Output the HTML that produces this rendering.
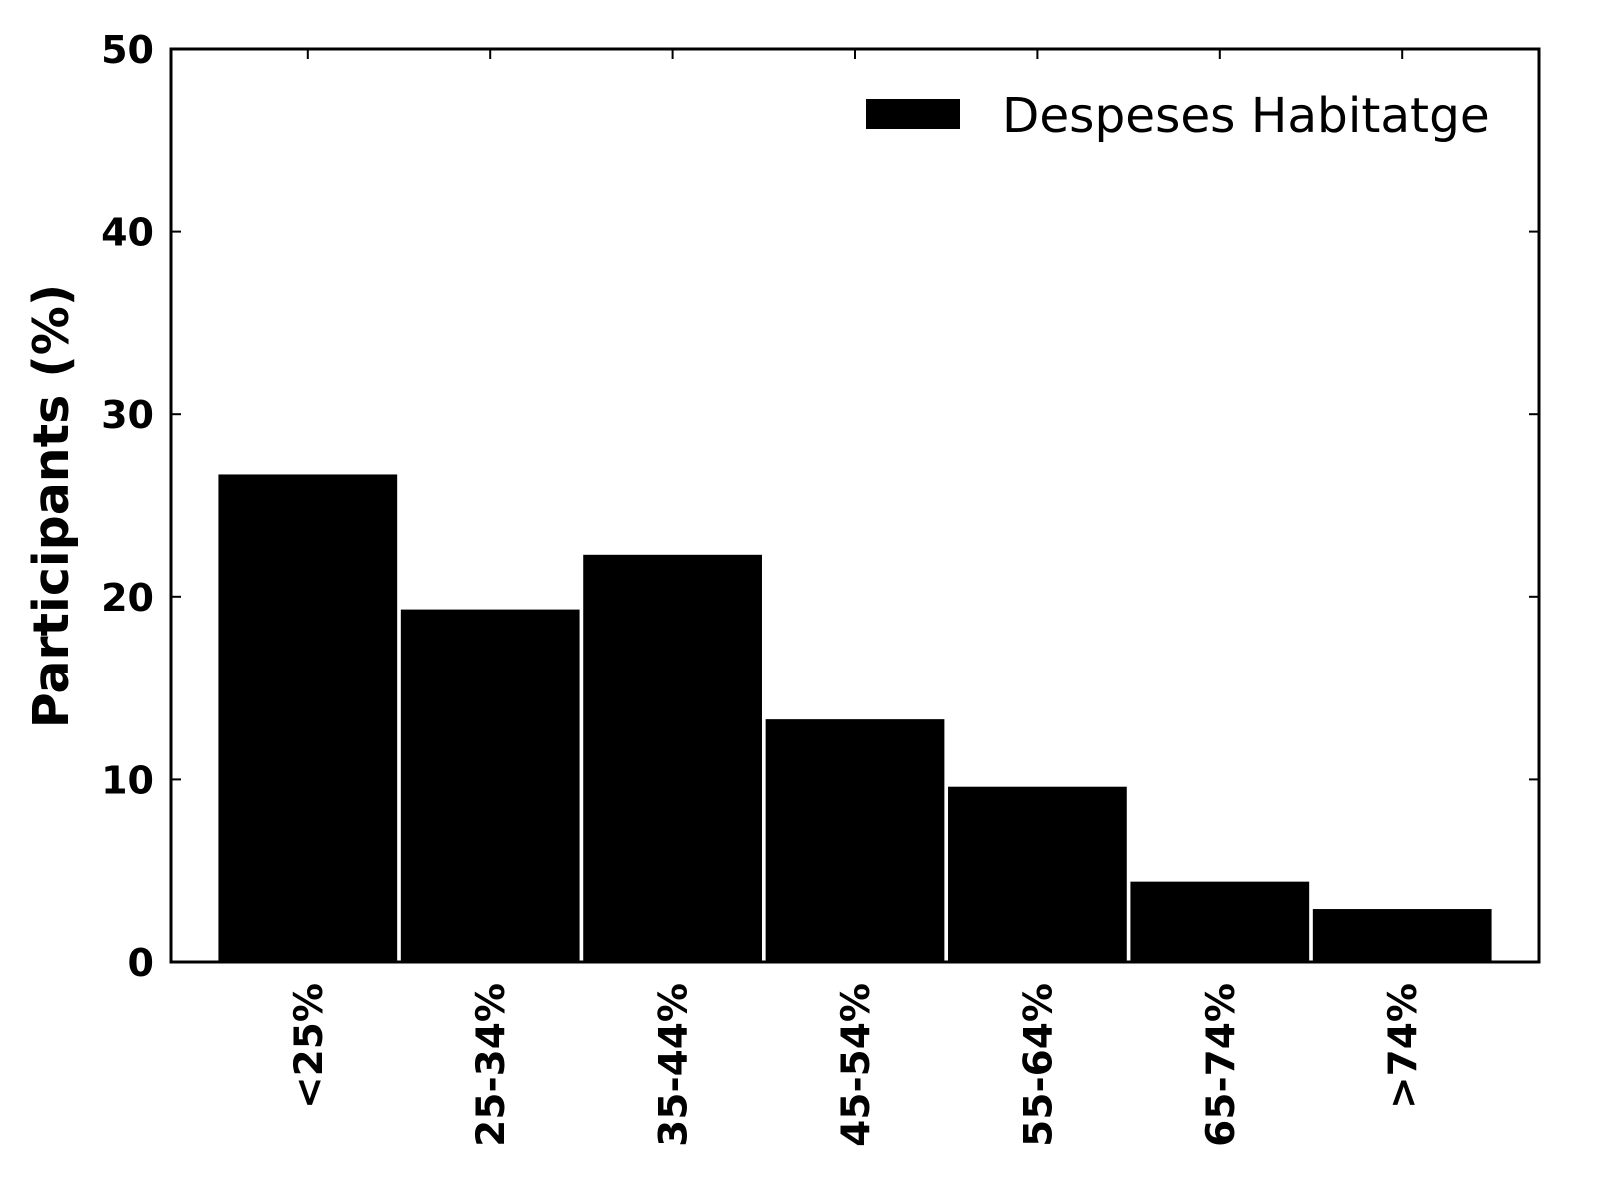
<!DOCTYPE html>
<html><head><meta charset="utf-8"><style>
html,body{margin:0;padding:0;background:#fff;}
svg{display:block;font-family:"DejaVu Sans","Liberation Sans",sans-serif;}
</style></head><body>
<svg id="chart" width="1598" height="1202" xmlns="http://www.w3.org/2000/svg"></svg>
<script>
const categories = ["<25%","25-34%","35-44%","45-54%","55-64%","65-74%",">74%"];
const values = [26.7, 19.3, 22.3, 13.3, 9.6, 4.4, 2.9];
const yTicks = [0,10,20,30,40,50];
const seriesName = "Despeses Habitatge";

const svg = document.getElementById('chart');
const NS = "http://www.w3.org/2000/svg";
const L=171, R=1539, T=49, B=962;
const yMax=50;
const xMin=-0.75, xMax=categories.length-0.25;
const xs = v => L + (v-xMin)/(xMax-xMin)*(R-L);
const ys = v => B - v/yMax*(B-T);
function mk(tag, attrs){const e=document.createElementNS(NS,tag);for(const k in attrs)e.setAttribute(k,attrs[k]);svg.appendChild(e);return e;}

values.forEach((v,i)=>{
  const x0=xs(i-0.49), x1=xs(i+0.49);
  const r=mk('rect',{x:x0,y:ys(v),width:x1-x0,height:B-ys(v),fill:'#000'});
  
  
});

yTicks.forEach(t=>{
  const y=ys(t);
  const a=mk('line',{x1:L,x2:L+10,y1:y,y2:y,stroke:'#000','stroke-width':2});
  
  
  mk('line',{x1:R,x2:R-10,y1:y,y2:y,stroke:'#000','stroke-width':2});
  const tx=mk('text',{x:L-17,y:y+14,'text-anchor':'end','font-size':38,'font-weight':'bold'});
  tx.textContent=t;
  
  
});

categories.forEach((c,i)=>{
  const x=xs(i);
  mk('line',{x1:x,x2:x,y1:T,y2:T+10,stroke:'#000','stroke-width':2});
  mk('line',{x1:x,x2:x,y1:B,y2:B-10,stroke:'#000','stroke-width':2});
  const tx=mk('text',{x:0,y:0,'text-anchor':'end','font-size':39,'font-weight':'bold',transform:`translate(${x+14},983) rotate(-90)`});
  tx.textContent=c;
  
  
});

const fr=mk('rect',{x:L,y:T,width:R-L,height:B-T,fill:'none',stroke:'#000','stroke-width':3});



const yl=mk('text',{x:0,y:0,'text-anchor':'middle','font-size':49,'font-weight':'bold',transform:'translate(68,506) rotate(-90)'});
yl.textContent='Participants (%)';



const lp=mk('rect',{x:866,y:99,width:94,height:30,fill:'#000'});


const lt=mk('text',{x:1002,y:132,'font-size':48.5});
lt.textContent=seriesName;


</script>
</body></html>
